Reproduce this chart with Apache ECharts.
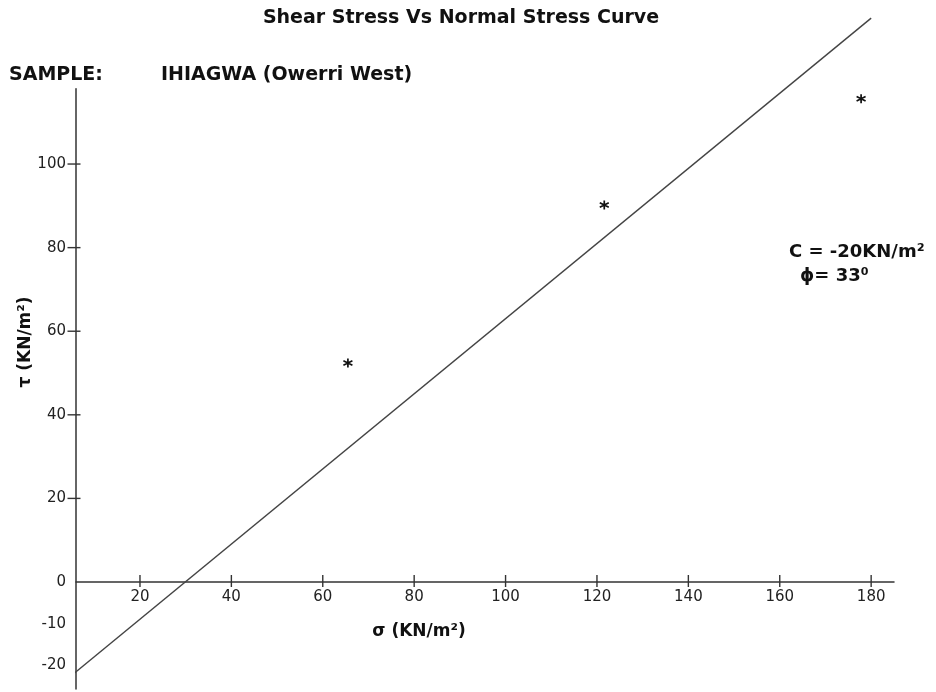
<!DOCTYPE html>
<html><head><meta charset="utf-8">
<script src="https://cdn.jsdelivr.net/npm/echarts@6/dist/echarts.min.js"></script>
<style>html,body{margin:0;padding:0;background:#fff}#c{width:936px;height:692px}</style>
</head><body><div id="c"></div>
<script>
// data
const sigma = [65.5, 121.6, 177.8];          // normal stress, KN/m2
const tau = [52.4, 90.2, 115.6];             // shear stress, KN/m2
const fitSigma = [4, 180];                   // envelope line ends
const fitTau = [-23.3, 134.9];
const xTickValues = [20, 40, 60, 80, 100, 120, 140, 160, 180];
const yLabelValues = [-20, -10, 0, 20, 40, 60, 80, 100];
const yTickValues = [20, 40, 60, 80, 100];
const X_MIN = 6, X_MAX = 185, Y_MIN = -25.6, Y_MAX = 118;

const FONT = 'DejaVu Sans';
const chart = echarts.init(document.getElementById('c'));
const asterisk = 'path://M5 0L5 10M0.67 2.5L9.33 7.5M0.67 7.5L9.33 2.5';
const bold = sz => 'bold ' + sz + 'px "DejaVu Sans"';
chart.setOption({
  animation: false,
  backgroundColor: '#fff',
  grid: {left: 76, right: 42, top: 88.8, bottom: 3, outerBoundsMode: 'none', containLabel: false},
  xAxis: {
    type: 'value', min: X_MIN, max: X_MAX,
    splitLine: {show: false},
    axisLine: {onZero: true, lineStyle: {color: '#333', width: 1.5}},
    axisTick: {show: false},
    axisLabel: {show: false}
  },
  yAxis: {
    type: 'value', min: Y_MIN, max: Y_MAX,
    splitLine: {show: false},
    axisLine: {onZero: false, lineStyle: {color: '#333', width: 1.5}},
    axisTick: {show: false},
    axisLabel: {customValues: yLabelValues, color: '#222', fontFamily: FONT, fontSize: 15, margin: 10}
  },
  series: [
    {
      type: 'line', clip: false, symbol: 'none', silent: true,
      data: fitSigma.map((s, i) => [s, fitTau[i]]),
      lineStyle: {color: '#444', width: 1.4}
    },
    {
      type: 'scatter', clip: false, symbol: asterisk, symbolSize: 9,
      data: sigma.map((s, i) => [s, tau[i]]),
      itemStyle: {color: '#111', borderColor: '#111', borderWidth: 1.7, opacity: 1}
    },
    {
      type: 'scatter', clip: false, symbol: 'rect', symbolSize: [1.4, 12], silent: true,
      data: xTickValues.map(v => [v, 0]), symbolOffset: [0, -1],
      itemStyle: {color: '#333', opacity: 1},
      label: {show: true, position: 'bottom', distance: 3, color: '#222', opacity: 1, fontFamily: FONT, fontSize: 15,
        formatter: p => String(p.value[0])}
    },
    {
      type: 'scatter', clip: false, symbol: 'rect', symbolSize: [13, 1.4], silent: true,
      data: yTickValues.map(v => [X_MIN, v]), symbolOffset: [-2, 0],
      itemStyle: {color: '#333', opacity: 1}
    }
  ],
  graphic: [
    {type: 'text', x: 461, y: 18, style: {text: 'Shear Stress Vs Normal Stress Curve', font: bold(19), fill: '#111', align: 'center', verticalAlign: 'middle'}},
    {type: 'text', x: 9, y: 75, style: {text: 'SAMPLE:', font: bold(19), fill: '#111', verticalAlign: 'middle'}},
    {type: 'text', x: 161, y: 75, style: {text: 'IHIAGWA (Owerri West)', font: bold(19), fill: '#111', verticalAlign: 'middle'}},
    {type: 'text', x: 789, y: 252, style: {text: 'C = -20KN/m²', font: bold(18), fill: '#111', verticalAlign: 'middle'}},
    {type: 'text', x: 800, y: 276, style: {text: 'ϕ= 33⁰', font: bold(18), fill: '#111', verticalAlign: 'middle'}},
    {type: 'text', x: 419, y: 632, style: {text: 'σ (KN/m²)', font: bold(17), fill: '#111', align: 'center', verticalAlign: 'middle'}},
    {type: 'text', x: 26, y: 342, rotation: Math.PI / 2, style: {text: 'τ (KN/m²)', font: bold(17), fill: '#111', align: 'center', verticalAlign: 'middle'}}
  ]
});
</script></body></html>
